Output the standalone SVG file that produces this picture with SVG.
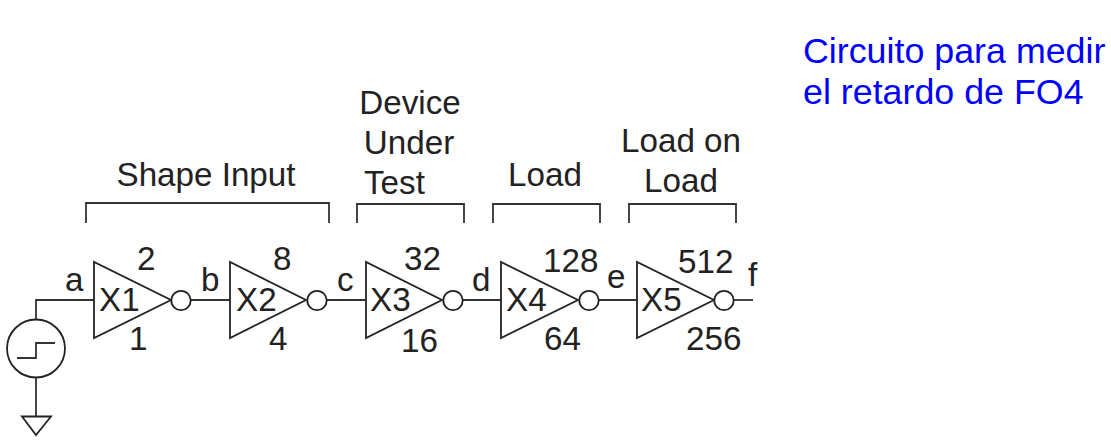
<svg xmlns="http://www.w3.org/2000/svg" width="1111" height="445" viewBox="0 0 1111 445">
<style>
text{font-family:"Liberation Sans",Arial,sans-serif;font-size:33.2px;fill:#222}
.m{text-anchor:middle}
.b{fill:#0000ff;font-size:35.8px}
.l{fill:none;stroke:#333;stroke-width:1.8}
.g{fill:#fff;stroke:#222;stroke-width:1.8}
</style>
<rect width="1111" height="445" fill="#fff"/>
<g id="connectors" class="l">
<path d="M36 320V300H94"/>
<path d="M36 377V417"/>
<path d="M191 300H230"/>
<path d="M327 300H365"/>
<path d="M463 300H501"/>
<path d="M599 300H636"/>
<path d="M734 300H753"/>
<path d="M86 223V203H329V223"/>
<path d="M357 223V204H464V223"/>
<path d="M493 223V204H600V223"/>
<path d="M629 223V204H736V223"/>
</g>
<g id="source">
<circle class="g" cx="36" cy="348.500" r="29"/>
<path class="l" d="M17 358H36V343H55"/>
</g>
<g id="ground"><path class="g" d="M22 416.500H51L36 435Z"/></g>
<g id="X1"><path class="g" d="M94 262V338L171 300Z"/><circle class="g" cx="181" cy="300.500" r="9.700"/><text x="99" y="311">X1</text></g>
<g id="X2"><path class="g" d="M230 262V338L306 300Z"/><circle class="g" cx="317" cy="300.500" r="9.700"/><text x="236" y="311">X2</text></g>
<g id="X3"><path class="g" d="M366 262V338L442 300Z"/><circle class="g" cx="453" cy="300.500" r="9.700"/><text x="370" y="311">X3</text></g>
<g id="X4"><path class="g" d="M501 262V338L578 300Z"/><circle class="g" cx="589" cy="300.500" r="9.700"/><text x="506" y="311">X4</text></g>
<g id="X5"><path class="g" d="M637 262V338L714 300Z"/><circle class="g" cx="724" cy="300.500" r="9.700"/><text x="641" y="311">X5</text></g>
<g id="labels">
<text x="65" y="291">a</text><text x="201" y="291">b</text><text x="337" y="291">c</text><text x="472" y="291">d</text><text x="607" y="288">e</text><text x="748" y="286">f</text>
<text x="137" y="270">2</text><text x="273" y="270">8</text><text x="404" y="270">32</text><text x="543" y="272">128</text><text x="678" y="273">512</text>
<text x="129" y="350">1</text><text x="269" y="350">4</text><text x="401" y="352">16</text><text x="544" y="350">64</text><text x="686" y="350">256</text>
<text class="m" x="206" y="186">Shape Input</text>
<text class="m" x="410" y="114">Device</text><text class="m" x="409" y="154">Under</text><text x="364" y="194">Test</text>
<text class="m" x="545" y="186">Load</text>
<text class="m" x="681" y="152">Load on</text><text class="m" x="681" y="192">Load</text>
<text class="b" x="803" y="63">Circuito para medir</text>
<text class="b" x="803" y="104">el retardo de FO4</text>
</g>
</svg>
